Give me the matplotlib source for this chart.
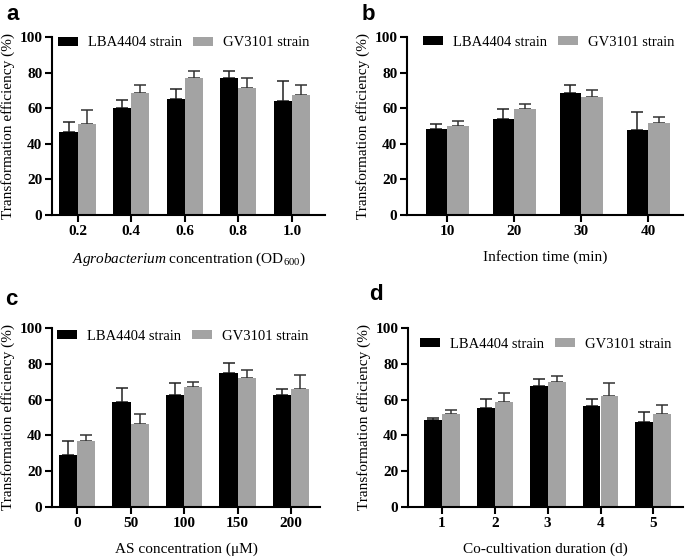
import matplotlib
matplotlib.use("Agg")
import matplotlib.pyplot as plt
import numpy as np

plt.rcParams['font.family'] = ['Liberation Serif', 'DejaVu Serif']
plt.rcParams['mathtext.fontset'] = 'custom'
plt.rcParams['mathtext.rm'] = 'Liberation Serif'
plt.rcParams['mathtext.it'] = 'Liberation Serif:italic'

series_names = ["LBA4404 strain", "GV3101 strain"]

a_cats = ["0.2", "0.4", "0.6", "0.8", "1.0"]
a_lba = [46.5, 60.2, 65.0, 77.2, 63.9]
a_lba_err = [6.0, 4.2, 5.8, 3.8, 11.4]
a_gv = [51.4, 68.8, 77.2, 71.2, 67.5]
a_gv_err = [7.6, 4.5, 3.8, 5.8, 5.8]

b_cats = ["10", "20", "30", "40"]
b_lba = [48.2, 54.0, 68.8, 48.0]
b_lba_err = [3.1, 5.7, 4.5, 9.8]
b_gv = [50.2, 59.8, 66.4, 51.5]
b_gv_err = [2.5, 2.5, 3.6, 3.7]

c_cats = ["0", "50", "100", "150", "200"]
c_lba = [29.2, 58.8, 62.5, 74.8, 62.5]
c_lba_err = [7.7, 7.5, 6.7, 5.7, 3.7]
c_gv = [36.7, 46.5, 67.3, 72.2, 66.1]
c_gv_err = [3.7, 5.7, 2.3, 4.5, 7.8]

d_cats = ["1", "2", "3", "4", "5"]
d_lba = [48.5, 55.4, 67.6, 56.4, 47.5]
d_lba_err = [1.3, 5.1, 3.9, 3.8, 5.3]
d_gv = [52.0, 58.6, 69.9, 61.9, 52.0]
d_gv_err = [2.0, 5.3, 3.2, 7.2, 5.2]

W, H = 685, 560
fig = plt.figure(figsize=(W / 100, H / 100), dpi=100)

BLACK = "#000000"
GRAY = "#a3a3a3"

def px_axes(l, r, t, b):
    return fig.add_axes([l / W, 1 - b / H, (r - l) / W, (b - t) / H])

panels = [
    dict(letter="a", box=(52, 325, 37, 215), cats=a_cats, lba=a_lba, le=a_lba_err, gv=a_gv, ge=a_gv_err,
         xlim=(-0.48, 4.62), w=0.34, xlabel=r"$\it{Agrobacterium}$ concentration (OD$_{600}$)",
         leg=(6, 6), letter_pos=(6, 20)),
    dict(letter="b", box=(407, 683, 37, 215), cats=b_cats, lba=b_lba, le=b_lba_err, gv=b_gv, ge=b_gv_err,
         xlim=(-0.6, 3.52), w=0.32, xlabel="Infection time (min)",
         leg=(16, 5), letter_pos=(362, 20)),
    dict(letter="c", box=(52, 320, 328, 507), cats=c_cats, lba=c_lba, le=c_lba_err, gv=c_gv, ge=c_gv_err,
         xlim=(-0.47, 4.54), w=0.34, xlabel="AS concentration (\u03bcM)",
         leg=(5, 8), letter_pos=(5, 305)),
    dict(letter="d", box=(408, 683, 328, 507), cats=d_cats, lba=d_lba, le=d_lba_err, gv=d_gv, ge=d_gv_err,
         xlim=(-0.64, 4.56), w=0.34, xlabel="Co-cultivation duration (d)",
         leg=(12, 16), letter_pos=(369, 300)),
]

for p in panels:
    l, r, t, b = p["box"]
    ax = px_axes(l, r, t, b)
    n = len(p["cats"])
    x = np.arange(n)
    w = p["w"]
    ax.bar(x - w / 2, p["lba"], width=w, color=BLACK, label=series_names[0], zorder=2)
    ax.bar(x + w / 2, p["gv"], width=w, color=GRAY, label=series_names[1], zorder=2)
    ax.errorbar(x - w / 2, p["lba"], yerr=[np.zeros(n), p["le"]], fmt="none",
                ecolor="#222222", elinewidth=1.1, capsize=4, capthick=1.1, zorder=1)
    ax.errorbar(x + w / 2, p["gv"], yerr=[np.zeros(n), p["ge"]], fmt="none",
                ecolor="#333333", elinewidth=1.1, capsize=4, capthick=1.1, zorder=1)
    ax.set_ylim(0, 100)
    ax.set_xlim(*p["xlim"])
    ax.set_yticks([0, 20, 40, 60, 80, 100])
    ax.set_xticks(x)
    ax.set_xticklabels(p["cats"])
    for s in ["top", "right"]:
        ax.spines[s].set_visible(False)
    for s in ["left", "bottom"]:
        ax.spines[s].set_linewidth(1.5)
    ax.tick_params(axis="both", width=1.5, length=5, labelsize=11, pad=2)
    for lab in ax.get_xticklabels() + ax.get_yticklabels():
        lab.set_fontweight("bold")
    ax.set_ylabel("Transformation efficiency (%)", fontsize=11, labelpad=3)
    ax.set_xlabel(p["xlabel"], fontsize=11, labelpad=9)
    pw = r - l
    ph = b - t
    dx, dy = p["leg"]
    ax.legend(loc="center left", bbox_to_anchor=(dx / pw, 1 - dy / ph), ncol=2, frameon=False,
              fontsize=10.5, borderpad=0, borderaxespad=0, handlelength=1.4, handleheight=0.6,
              handletextpad=0.65, columnspacing=0.75)
    lx, ly = p["letter_pos"]
    fig.text(lx / W, 1 - ly / H, p["letter"], fontsize=16, fontweight="bold",
             family=["Liberation Sans", "DejaVu Sans"], ha="left", va="baseline")

fig.savefig("out.png", dpi=100)
